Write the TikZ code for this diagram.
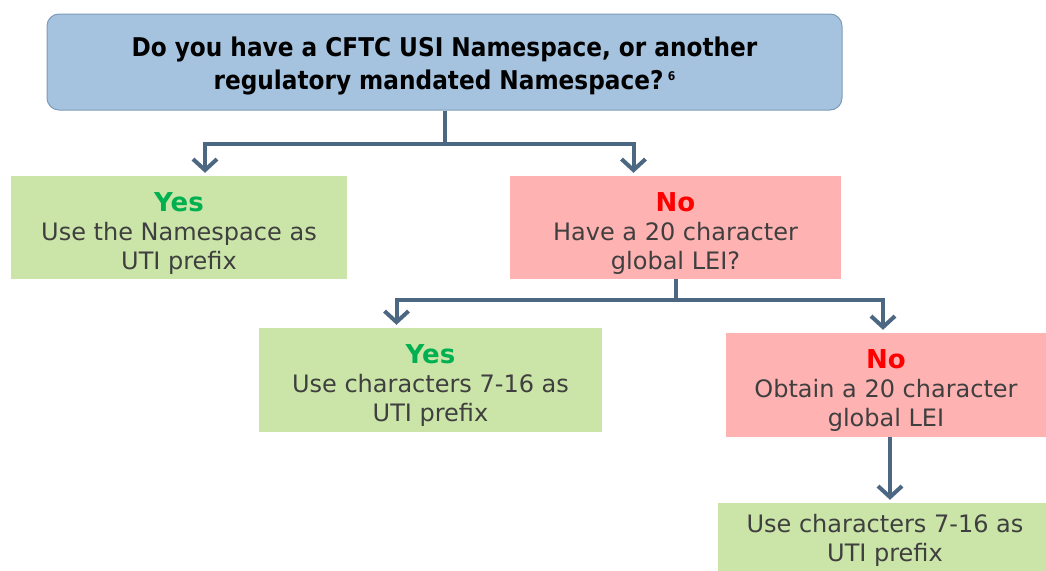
\documentclass[tikz,border=0pt]{standalone}
\usepackage{fontspec}
\setmainfont{DejaVu Sans}
\newfontfamily\questionfont{DejaVu Sans Condensed Bold}
\usetikzlibrary{arrows.meta}

\definecolor{askblue}{HTML}{A5C3DF}
\definecolor{askedge}{HTML}{7E9CB8}
\definecolor{yesfill}{HTML}{CBE5A8}
\definecolor{nofill}{HTML}{FFB2B2}
\definecolor{yesgreen}{HTML}{00B050}
\definecolor{nored}{HTML}{FF0000}
\definecolor{bodygrey}{HTML}{3F3F3F}
\definecolor{linkslate}{HTML}{4B6782}

\tikzset{
  answer/.style={inner sep=0pt, align=center, text=bodygrey,
    font=\fontsize{24}{29}\selectfont},
  yesbox/.style={answer, fill=yesfill},
  nobox/.style={answer, fill=nofill},
  link/.style={draw=linkslate, line width=4pt,
    -{Straight Barb[length=11pt,width=24pt]}, shorten >=3pt},
}

\newcommand{\yes}{\rule{0pt}{30pt}{\color{yesgreen}\fontsize{26}{29}\selectfont\bfseries Yes}}
\newcommand{\no}{\rule{0pt}{30pt}{\color{nored}\fontsize{26}{29}\selectfont\bfseries No}}

\begin{document}
\begin{tikzpicture}[x=1pt, y=-1pt]
  \useasboundingbox (0,0) rectangle (1046,570);

  \node[fill=askblue, draw=askedge, line width=1pt, rounded corners=12pt,
    minimum width=795pt, minimum height=96pt, align=center,
    font=\questionfont\fontsize{25.8}{33}\selectfont]
    (question) at (444.5,62)
    {\rule{0pt}{27pt}Do you have a CFTC USI Namespace, or another\\
     regulatory mandated Namespace?\,\raisebox{0.6ex}{\fontsize{12}{12}\selectfont 6}};

  \node[yesbox, minimum width=336pt, minimum height=103pt]
    (usespace) at (179,227.5) {\yes\\Use the Namespace as\\UTI prefix};
  \node[nobox, minimum width=331pt, minimum height=103pt]
    (havelei) at (675.5,227.5) {\no\\Have a 20 character\\global LEI?};

  \node[yesbox, minimum width=343pt, minimum height=104pt]
    (usechars) at (430.5,380) {\yes\\Use characters 7-16 as\\UTI prefix};
  \node[nobox, minimum width=320pt, minimum height=104pt]
    (obtainlei) at (886,385) {\no\\Obtain a 20 character\\global LEI};

  \node[yesbox, minimum width=334pt, minimum height=74pt]
    (usenew) at (885,540) {Use characters 7-16 as\\UTI prefix};

  \draw[link] (question.south) -- ++(0,33) -| ([xshift=26pt]usespace.north);
  \draw[link] (question.south) -- ++(0,33) -| ([xshift=-42pt]havelei.north);
  \draw[link] (havelei.south) -- ++(0,21) -| ([xshift=-34pt]usechars.north);
  \draw[link] (havelei.south) -- ++(0,21) -| ([xshift=-3pt]obtainlei.north);
  \draw[link] ([xshift=4pt]obtainlei.south) -- ([xshift=5pt]usenew.north);
\end{tikzpicture}
\end{document}
